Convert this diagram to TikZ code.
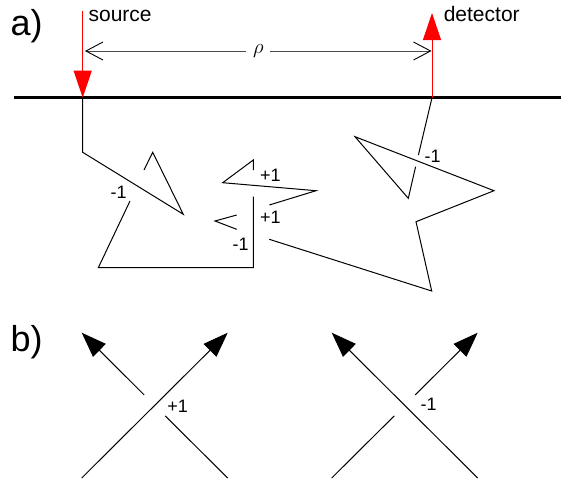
\documentclass[tikz,border=0pt]{standalone}
\usepackage{fontspec}
\setmainfont{Liberation Sans}
\usetikzlibrary{arrows.meta}

\begin{document}
\begin{tikzpicture}[
  x=1pt, y=-1pt,
  every node/.style={font=\fontsize{21}{25}\selectfont, inner sep=0pt},
  panel/.style={font=\fontsize{36}{40}\selectfont, anchor=base west},
  sign/.style={font=\fontsize{18}{22}\selectfont, anchor=base},
  strand/.style={line width=1pt, line join=miter},
  ray/.style={red, line width=1pt, -{Triangle[length=27pt,width=18pt]}},
  orient/.style={strand, -{Triangle[length=25pt,width=18pt]}},
  spacing/.style={black!70, line width=0.9pt,
    {Straight Barb[length=17pt,width=18pt,black]}-{Straight Barb[length=17pt,width=18pt,black]}}
]
\useasboundingbox (0,0) rectangle (561,480);

% --- PANEL LABELS ---
\node[panel] (lba) at (10.5,35) {a)};
\node[panel] (lbb) at (10.5,351) {b)};

% --- SURFACE, SOURCE AND DETECTOR ---
\coordinate (west) at (14,97.7);
\coordinate (east) at (561,97.7);
\draw[line width=3pt] (west) -- (east);

\coordinate (srctop) at (82.7,11);
\coordinate (src) at (82.7,97.7);
\coordinate (dettop) at (432,13);
\coordinate (det) at (432,97.7);
\draw[ray] (srctop) -- (src);
\draw[ray] (det) -- (dettop);

\node[anchor=base west] (srclbl) at (88.4,21.7) {source};
\node[anchor=base west] (detlbl) at (443.6,21.7) {detector};

\coordinate (rhoL) at (85,51);
\coordinate (rhoR) at (431.5,51);
\draw[spacing] (rhoL) -- node[fill=white, text=black, inner xsep=7pt, inner ysep=3pt] (rho) {$\rho$} (rhoR);

% --- KNOTTED PATH BELOW THE SURFACE ---
\coordinate (k1) at (82.7,152.3);
\coordinate (k2) at (183.3,214.3);
\coordinate (k3) at (152.7,152.3);
\coordinate (k3a) at (144,170);
\coordinate (k3b) at (130,201);
\coordinate (k4) at (98.3,267.7);
\coordinate (k5) at (253.3,267.7);
\coordinate (k5a) at (253.3,196.7);
\coordinate (k5b) at (253.3,170);
\coordinate (k6) at (253.3,160);
\coordinate (k7) at (222.7,182.7);
\coordinate (k8) at (316,190.7);
\coordinate (k8a) at (269.3,205);
\coordinate (k8b) at (236.7,215);
\coordinate (k9) at (215,221);
\coordinate (k9a) at (236.7,229.3);
\coordinate (k9b) at (269.3,239.3);
\coordinate (k10) at (431.7,291);
\coordinate (k11) at (416,221.7);
\coordinate (k12) at (494,190.7);
\coordinate (k13) at (355,136.7);
\coordinate (k14) at (408.3,198.3);
\coordinate (k14a) at (415.6,166.7);
\coordinate (k14b) at (418.4,155);

\draw[strand] (src) -- (k1) -- (k2) -- (k3) -- (k3a);
\draw[strand] (k3b) -- (k4) -- (k5) -- (k5a);
\draw[strand] (k5b) -- (k6) -- (k7) -- (k8) -- (k8a);
\draw[strand] (k8b) -- (k9) -- (k9a);
\draw[strand] (k9b) -- (k10) -- (k11) -- (k12) -- (k13) -- (k14) -- (k14a);
\draw[strand] (k14b) -- (det);

\node[sign] (c1) at (118.7,198.3) {-1};
\node[sign] (c2) at (270.3,181.7) {+1};
\node[sign] (c3) at (270.3,223.3) {+1};
\node[sign] (c4) at (240.7,250.7) {-1};
\node[sign] (c5) at (432.7,162.3) {-1};

% --- CROSSING SIGNS ---
\coordinate (pBL) at (81.7,478);
\coordinate (pTR) at (227.7,332.7);
\coordinate (pBR) at (227.7,478);
\coordinate (pTL) at (81.7,332.7);
\coordinate (pGa) at (165.2,415.9);
\coordinate (pGb) at (144.2,394.9);
\draw[orient] (pBL) -- (pTR);
\draw[strand] (pBR) -- (pGa);
\draw[orient] (pGb) -- (pTL);
\node[sign] (plus) at (177.7,412.7) {+1};

\coordinate (mBL) at (331.7,478);
\coordinate (mTR) at (477.7,332.7);
\coordinate (mBR) at (477.7,478);
\coordinate (mTL) at (331.7,332.7);
\coordinate (mGa) at (394.2,415.9);
\coordinate (mGb) at (415.2,394.9);
\draw[orient] (mBR) -- (mTL);
\draw[strand] (mBL) -- (mGa);
\draw[orient] (mGb) -- (mTR);
\node[sign] (minus) at (428.7,410.7) {-1};

\end{tikzpicture}
\end{document}
